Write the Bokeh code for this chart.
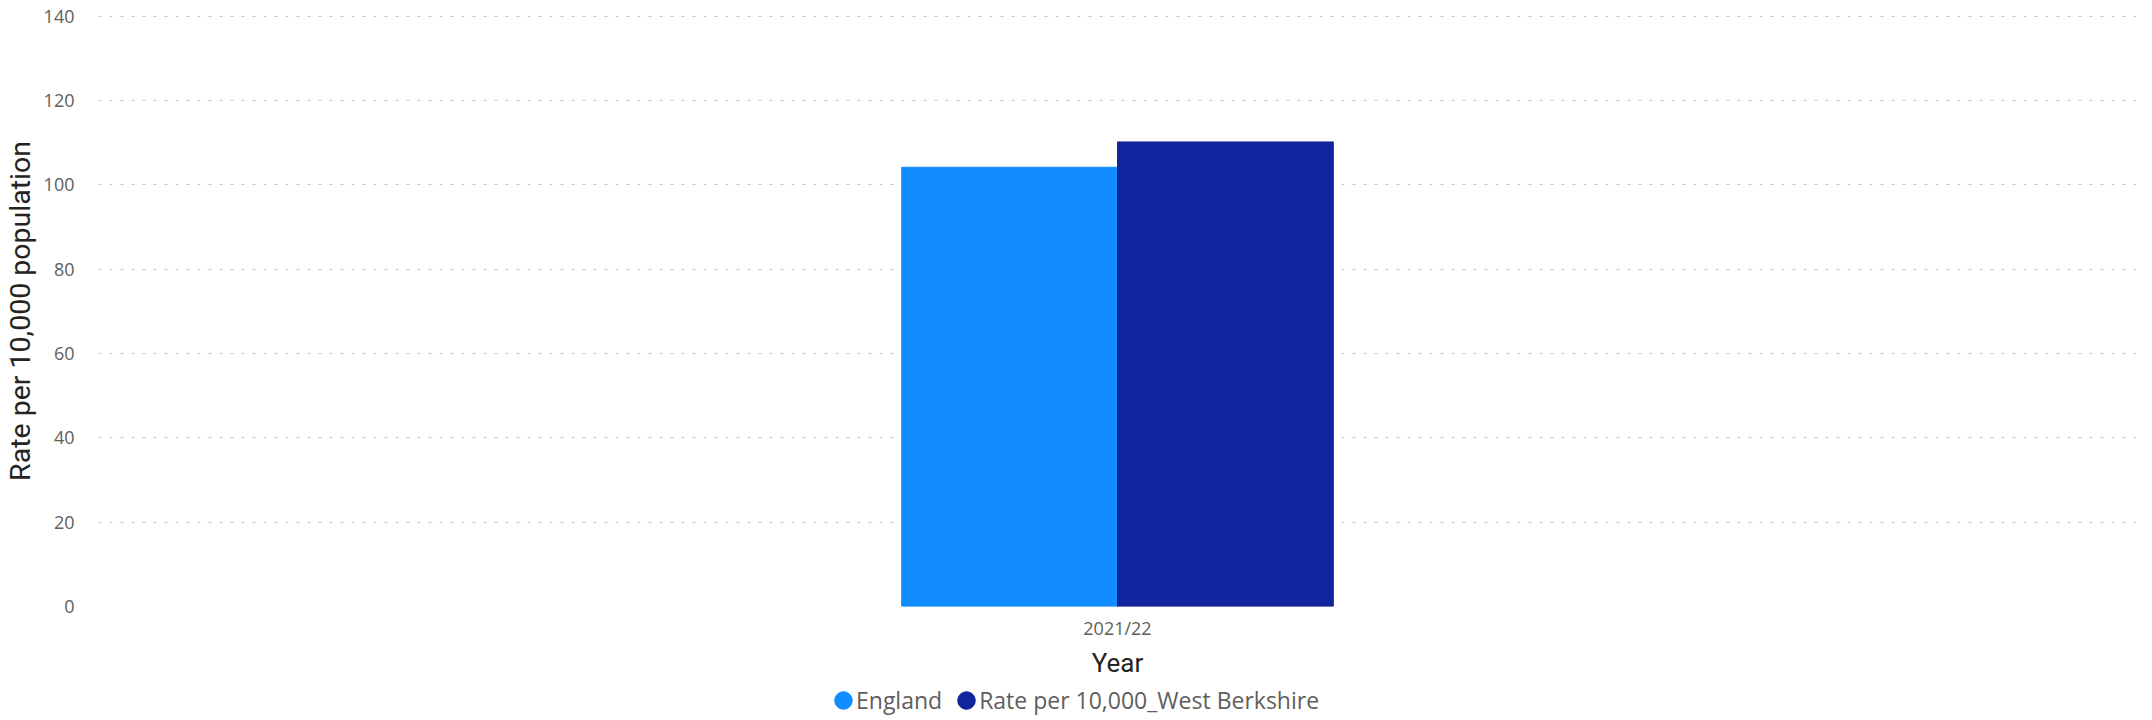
from bokeh.plotting import figure
from bokeh.models import Range1d, FactorRange, Legend, LegendItem, ColumnDataSource
from bokeh.layouts import column
from bokeh.transform import dodge
from bokeh.embed import file_html
from bokeh.resources import INLINE

years = ["2021/22"]
england = [104.2]
west_berkshire = [110.2]
series_names = ["England", "Rate per 10,000_West Berkshire"]
colors = ["#118DFF", "#12239E"]
y_ticks = [0, 20, 40, 60, 80, 100, 120, 140]

FONT = "Open Sans"
TITLE_FONT = "Roboto"

src = ColumnDataSource(dict(year=years, england=england, wb=west_berkshire))

p = figure(width=2136, height=680, x_range=FactorRange(*years), y_range=Range1d(0, 140.2),
           output_backend="svg", toolbar_location=None,
           min_border_left=92, min_border_right=0, min_border_top=15, min_border_bottom=73)
p.outline_line_color = None
p.background_fill_color = "white"
p.border_fill_color = "white"

bw = 0.1059
p.vbar(x=dodge("year", -bw / 2, range=p.x_range), top="england", width=bw, source=src,
       fill_color=colors[0], line_color=colors[0])
p.vbar(x=dodge("year", bw / 2, range=p.x_range), top="wb", width=bw, source=src,
       fill_color=colors[1], line_color=colors[1])

# axes
p.yaxis.ticker = y_ticks
p.yaxis.axis_label = "Rate per 10,000 population"
p.yaxis.axis_label_text_font = TITLE_FONT
p.yaxis.axis_label_text_font_size = "28.5px"
p.yaxis.axis_label_text_font_style = "normal"
p.yaxis.axis_label_text_color = "#252423"
p.yaxis.axis_label_standoff = 4
p.yaxis.major_label_text_font = FONT
p.yaxis.major_label_text_font_size = "18px"
p.yaxis.major_label_text_color = "#605E5C"
p.yaxis.major_label_standoff = 18
p.yaxis.axis_line_color = None
p.yaxis.major_tick_line_color = None
p.yaxis.minor_tick_line_color = None

p.xaxis.axis_label = "Year"
p.xaxis.axis_label_text_font = TITLE_FONT
p.xaxis.axis_label_text_font_size = "26px"
p.xaxis.axis_label_text_font_style = "normal"
p.xaxis.axis_label_text_color = "#252423"
p.xaxis.axis_label_standoff = 5
p.xaxis.major_label_text_font = FONT
p.xaxis.major_label_text_font_size = "18px"
p.xaxis.major_label_text_color = "#605E5C"
p.xaxis.major_label_standoff = 3
p.xaxis.axis_line_color = None
p.xaxis.major_tick_line_color = None
p.xaxis.minor_tick_line_color = None

p.xgrid.grid_line_color = None
p.ygrid.grid_line_color = "#C8C6C4"
p.ygrid.grid_line_dash = "3 8"
p.ygrid.grid_line_width = 1

# legend strip below the chart (proxy markers lie outside the strip's ranges)
lg = figure(width=2136, height=36, x_range=Range1d(0, 1), y_range=Range1d(0, 1),
            x_axis_type=None, y_axis_type=None,
            output_backend="svg", toolbar_location=None,
            min_border_left=0, min_border_right=0, min_border_top=0, min_border_bottom=0)
lg.grid.visible = False
lg.outline_line_color = None
d1 = lg.ellipse(x=[5], y=[5], width=18, height=18, width_units="screen", height_units="screen",
                fill_color=colors[0], line_color=colors[0])
d2 = lg.ellipse(x=[5], y=[5], width=18, height=18, width_units="screen", height_units="screen",
                fill_color=colors[1], line_color=colors[1])
legend = Legend(items=[LegendItem(label=series_names[0], renderers=[d1]),
                       LegendItem(label=series_names[1], renderers=[d2])],
                orientation="horizontal", location=(734, 0),
                label_text_font=FONT, label_text_font_size="23px", label_text_color="#605E5C",
                glyph_width=22, glyph_height=22, label_standoff=2, spacing=13,
                padding=0, margin=0, border_line_color=None, background_fill_alpha=0)
lg.add_layout(legend, "center")

open("out.html", "w").write(file_html(column(p, lg, spacing=0), INLINE))
